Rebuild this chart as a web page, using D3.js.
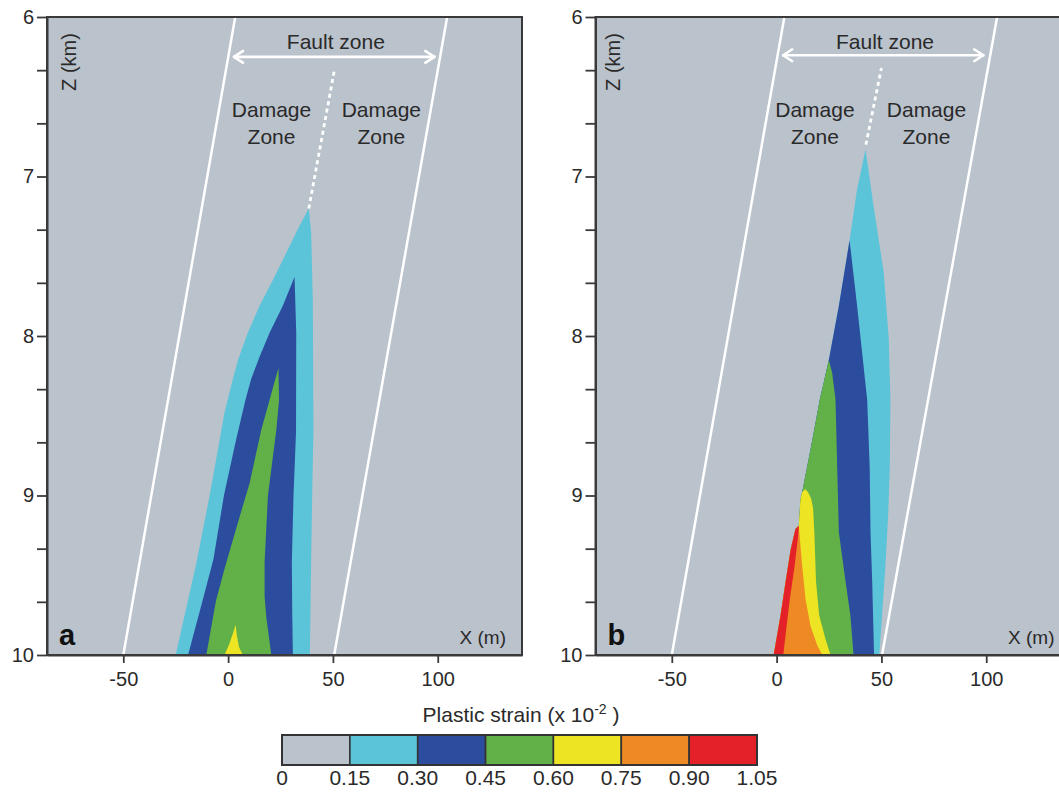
<!DOCTYPE html>
<html>
<head>
<meta charset="utf-8">
<script src="https://cdn.jsdelivr.net/npm/d3@7"></script>
<style>
body { margin: 0; background: #fff; }
text { font-family: "Liberation Sans", Arial, Helvetica, sans-serif; fill: #2a2a2a; }
</style>
</head>
<body>
<svg id="chart" width="1059" height="795"></svg>
<script>
// plastic strain classes (x 10^-2)
var levels = [0, 0.15, 0.30, 0.45, 0.60, 0.75, 0.90, 1.05];
var levelLabels = ['0', '0.15', '0.30', '0.45', '0.60', '0.75', '0.90', '1.05'];
var levelColors = ['#bac2cc', '#5bc4d8', '#2c4c9e', '#62b048', '#ede523', '#ee8a24', '#e42129'];

var xTicks = [-50, 0, 50, 100];
var zLabels = [6, 7, 8, 9, 10];
var zTicks = d3.range(0, 13).map(function(i){ return 6 + i / 3; });

// ---- panel a : contour outlines [x (m), z (km)], one closed outline per class
var aCyan = [[38.5,7.20],[39.6,7.35],[40.4,7.77],[40.7,8.59],[40.1,9.00],[39.6,9.42],[39.0,10.0],
             [-25.0,10.0],[-15.1,9.42],[-8.8,9.00],[-3.2,8.59],[-1.7,8.48],[1.5,8.31],[4.7,8.15],
             [9.4,7.98],[15.0,7.81],[21.3,7.65],[27.7,7.48],[34.0,7.31]];
var aBlue = [[31.7,7.63],[32.5,7.98],[32.4,8.60],[31.2,9.00],[30.4,9.42],[30.6,9.75],[30.9,10.0],
             [-19.1,10.0],[-12.2,9.66],[-7.0,9.40],[-2.0,9.00],[3.8,8.65],[8.3,8.40],[11.0,8.27],[15.0,8.13],
             [19.8,7.98],[26.1,7.81]];
var aGreen = [[24.0,8.20],[24.3,8.40],[23.0,8.59],[19.0,9.00],[17.4,9.42],[17.4,9.63],[18.2,9.76],
              [20.6,10.0],[-10.4,10.0],[-5.8,9.66],[-1.5,9.45],[4.0,9.20],[10.3,8.92],[15.8,8.59],[19.8,8.40]];
var aYellow = [[3.6,9.81],[4.2,9.88],[5.2,9.95],[7.0,10.0],[-1.7,10.0],[0.6,9.93],[2.4,9.86]];

// ---- panel b : shared left (gray) boundary and right edge of each class
var bLeft = [[42.4,6.83],[38.4,7.08],[34.8,7.40],[29.7,7.81],[24.9,8.15],[20.6,8.40],[16.2,8.71],
             [12.2,8.98],[11.4,9.02],[10.6,9.19],[9.0,9.21],[6.7,9.34],[4.3,9.54],[1.9,9.75],[-1.4,10.0]];
var bCyanRight = [[42.4,6.83],[46.3,7.19],[51.1,7.60],[53.5,8.02],[54.3,8.40],[54.0,8.82],[53.2,9.13],
                  [51.9,9.44],[50.3,9.75],[49.0,10.0]];
var bBlueRight = [[34.8,7.40],[38.4,7.81],[43.2,8.40],[44.4,8.82],[44.8,9.23],[45.6,9.54],[46.0,9.75],[46.5,10.0]];
var bGreenRight = [[24.9,8.15],[26.5,8.23],[28.1,8.40],[28.9,8.82],[29.7,9.23],[32.9,9.54],[35.2,9.75],[36.7,10.0]];
var bYellowRight = [[12.2,8.98],[13.6,8.96],[15.0,8.98],[16.5,9.02],[17.4,9.08],[18.0,9.23],[18.8,9.54],
                    [20.3,9.75],[23.3,9.90],[25.7,10.0]];
var bOrangeRight = [[10.6,9.19],[11.1,9.27],[12.2,9.44],[13.8,9.65],[16.2,9.82],[19.4,9.94],[21.8,10.0]];
var bRedRight = [[10.6,9.19],[10.3,9.25],[8.6,9.44],[6.3,9.65],[4.4,9.86],[3.2,10.0]];

// damage zone borders and fault trace (dotted)
var aZoneEdges = [[[-50.0,10],[3.4,6]], [[50.6,10],[104.5,6]]];
var bZoneEdges = [[[-50.0,10],[3.7,6]], [[50.3,10],[105.2,6]]];
var aFaultTrace = [[38.5,7.20],[50.6,6.34]];
var bFaultTrace = [[42.6,6.80],[50.0,6.32]];
var aFaultZone = [[2.3,6.25],[98.9,6.25]];
var bFaultZone = [[2.6,6.24],[99.1,6.24]];

// build the panel b outlines from right edge + shared left boundary
function closeWithLeft(right){
    var tipZ = right[0][1];
    var left = bLeft.filter(function(p){ return p[1] > tipZ; }).reverse();
    return right.concat(left);
}

var panels = [
    {id:'a', left:47, top:17, width:475, height:638,
     shapes:[aCyan, aBlue, aGreen, aYellow],
     edges:aZoneEdges, trace:aFaultTrace, zone:aFaultZone,
     dmgLeft:20.7, dmgRight:73.1, faultText:51.4, zLabelDx:22},
    {id:'b', left:595.5, top:17, width:475, height:638,
     shapes:[closeWithLeft(bCyanRight), closeWithLeft(bBlueRight), closeWithLeft(bGreenRight),
             closeWithLeft(bYellowRight), closeWithLeft(bOrangeRight), closeWithLeft(bRedRight)],
     edges:bZoneEdges, trace:bFaultTrace, zone:bFaultZone,
     dmgLeft:18.3, dmgRight:71.5, faultText:51.7, zLabelDx:17}
];

var svg = d3.select('#chart');
svg.append('rect').attr('width', 1059).attr('height', 795).attr('fill', '#fff');

panels.forEach(function(p){
    var x = d3.scaleLinear().domain([-86.4, 140.2]).range([p.left, p.left + p.width]);
    var y = d3.scaleLinear().domain([6, 10]).range([p.top, p.top + p.height]);
    var line = d3.line().x(function(d){ return x(d[0]); }).y(function(d){ return y(d[1]); });

    var clipId = 'clip-' + p.id;
    svg.append('clipPath').attr('id', clipId)
        .append('rect').attr('x', p.left).attr('y', p.top).attr('width', p.width).attr('height', p.height);

    var g = svg.append('g').attr('clip-path', 'url(#' + clipId + ')');
    g.append('rect').attr('x', p.left).attr('y', p.top).attr('width', p.width).attr('height', p.height)
        .attr('fill', levelColors[0]);

    g.selectAll('.contour').data(p.shapes).enter().append('path')
        .attr('class', 'contour')
        .attr('d', function(d){ return line(d) + 'Z'; })
        .attr('fill', function(d, i){ return levelColors[i + 1]; });

    g.selectAll('.edge').data(p.edges).enter().append('path')
        .attr('d', line).attr('stroke', '#fff').attr('stroke-width', 2.5).attr('fill', 'none');

    g.append('path').attr('d', line(p.trace))
        .attr('stroke', '#fff').attr('stroke-width', 2.8).attr('stroke-dasharray', '4,3.5').attr('fill', 'none');

    // fault zone double arrow
    var x0 = x(p.zone[0][0]), x1 = x(p.zone[1][0]), yz = y(p.zone[0][1]);
    g.append('path').attr('d', 'M' + x0 + ',' + yz + 'H' + x1)
        .attr('stroke', '#fff').attr('stroke-width', 2.6).attr('fill', 'none');
    g.append('path')
        .attr('d', 'M' + (x0 + 11) + ',' + (yz - 6.5) + 'L' + (x0 + 1) + ',' + yz + 'L' + (x0 + 11) + ',' + (yz + 6.5) +
                   'M' + (x1 - 11) + ',' + (yz - 6.5) + 'L' + (x1 - 1) + ',' + yz + 'L' + (x1 - 11) + ',' + (yz + 6.5))
        .attr('stroke', '#fff').attr('stroke-width', 2.6).attr('fill', 'none').attr('stroke-linejoin', 'round');

    g.append('text').attr('x', x(p.faultText)).attr('y', 49).attr('text-anchor', 'middle')
        .style('font-size', '21px').text('Fault zone');
    [p.dmgLeft, p.dmgRight].forEach(function(cx){
        var t = g.append('text').attr('x', x(cx)).attr('y', 117).attr('text-anchor', 'middle').style('font-size', '21px');
        t.append('tspan').attr('x', x(cx)).text('Damage');
        t.append('tspan').attr('x', x(cx)).attr('dy', 27).text('Zone');
    });

    g.append('text')
        .attr('transform', 'translate(' + (p.left + p.zLabelDx) + ',62) rotate(-90)')
        .attr('dy', '0.35em').attr('text-anchor', 'middle').style('font-size', '20px').text('Z (km)');
    g.append('text').attr('x', p.left + 12).attr('y', 645)
        .style('font-size', '29px').style('font-weight', 'bold').style('fill', '#111').text(p.id);
    g.append('text').attr('x', p.left + p.width - 16).attr('y', 644).attr('text-anchor', 'end')
        .style('font-size', '19px').text('X (m)');

    // frame
    svg.append('rect').attr('x', p.left).attr('y', p.top).attr('width', p.width).attr('height', p.height)
        .attr('fill', 'none').attr('stroke', '#3a3a3a').attr('stroke-width', 2);

    var yAxis = svg.append('g').attr('transform', 'translate(' + p.left + ',0)')
        .call(d3.axisLeft(y).tickValues(zTicks).tickSize(10).tickSizeOuter(0).tickPadding(3)
            .tickFormat(function(d){ return zLabels.indexOf(Math.round(d * 1000) / 1000) >= 0 ? d : ''; }));
    var xAxis = svg.append('g').attr('transform', 'translate(0,' + (p.top + p.height) + ')')
        .call(d3.axisBottom(x).tickValues(xTicks).tickSize(8).tickSizeOuter(0).tickPadding(9)
            .tickFormat(function(d){ return String(d).replace('\u2212', '-'); }));
    [yAxis, xAxis].forEach(function(ax){
        ax.select('.domain').attr('stroke', '#3a3a3a').attr('stroke-width', 2);
        ax.selectAll('.tick line').attr('stroke', '#3a3a3a').attr('stroke-width', 1.8);
        ax.selectAll('.tick text').style('font-size', '20px')
            .style('font-family', '"Liberation Sans", Arial, sans-serif').attr('fill', '#2a2a2a');
    });
});

// colour bar legend
var lx = d3.scaleLinear().domain([0, 1.05]).range([282, 757]);
var legend = svg.append('g');
legend.selectAll('rect').data(levelColors).enter().append('rect')
    .attr('x', function(d, i){ return lx(levels[i]); })
    .attr('y', 735)
    .attr('width', function(d, i){ return lx(levels[i + 1]) - lx(levels[i]); })
    .attr('height', 30)
    .attr('fill', function(d){ return d; })
    .attr('stroke', '#333').attr('stroke-width', 1.6);
legend.append('rect').attr('x', lx(0)).attr('y', 735).attr('width', lx(1.05) - lx(0)).attr('height', 30)
    .attr('fill', 'none').attr('stroke', '#333').attr('stroke-width', 2);
legend.selectAll('.lab').data(levels).enter().append('text')
    .attr('class', 'lab')
    .attr('x', function(d){ return lx(d); })
    .attr('y', 785).attr('text-anchor', 'middle').style('font-size', '21px')
    .text(function(d, i){ return levelLabels[i]; });
var title = legend.append('text').attr('x', 521).attr('y', 722).attr('text-anchor', 'middle').style('font-size', '21px');
title.append('tspan').text('Plastic strain (x 10');
title.append('tspan').attr('dy', -8).style('font-size', '14px').text('-2');
title.append('tspan').attr('dy', 8).text(' )');
</script>
</body>
</html>
